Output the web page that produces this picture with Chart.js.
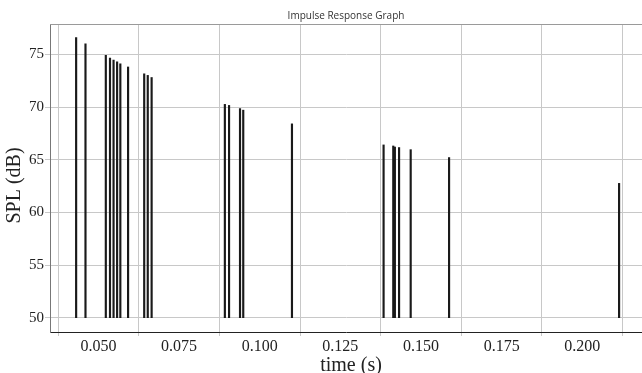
<!DOCTYPE html>
<html>
<head>
<meta charset="utf-8">
<script src="https://cdn.jsdelivr.net/npm/chart.js@4/dist/chart.umd.min.js"></script>
<style>
  html, body { margin: 0; padding: 0; background: #ffffff; }
  #wrap { width: 642px; height: 373px; position: relative; }
</style>
</head>
<body>
<div id="wrap"><canvas id="c" width="642" height="373"></canvas></div>
<script>
// ---- data ----
const chartTitle = "Impulse Response Graph";
const xTitle = "time (s)";
const yTitle = "SPL (dB)";
const times = [0.0431, 0.0460, 0.0523, 0.0536, 0.0547, 0.0558, 0.0568, 0.0592, 0.0642, 0.0653, 0.0665,
               0.0892, 0.0905, 0.0939, 0.0949, 0.1100,
               0.1384, 0.1414, 0.1419, 0.1432, 0.1468, 0.1587, 0.2114];
const splValues = [76.6, 76.0, 74.9, 74.65, 74.45, 74.3, 74.1, 73.8, 73.15, 73.0, 72.8,
                   70.25, 70.15, 69.85, 69.7, 68.4,
                   66.4, 66.3, 66.2, 66.15, 65.95, 65.2, 62.75];
const baseLevel = 50;
const xTicks = [0.050, 0.075, 0.100, 0.125, 0.150, 0.175, 0.200];
const yTicks = [50, 55, 60, 65, 70, 75];

const points = times.map((t, i) => ({ x: t, y: [baseLevel, splValues[i]] }));

const topBorder = {
  id: 'topBorder',
  afterDraw(chart) {
    const { ctx, chartArea } = chart;
    ctx.save();
    ctx.strokeStyle = '#9a9a9a';
    ctx.lineWidth = 1;
    ctx.beginPath();
    ctx.moveTo(chartArea.left, chartArea.top + 0.5);
    ctx.lineTo(chartArea.right, chartArea.top + 0.5);
    ctx.stroke();
    ctx.restore();
  }
};

new Chart(document.getElementById('c'), {
  type: 'bar',
  data: {
    datasets: [{
      data: points,
      backgroundColor: '#1a1a1a',
      borderWidth: 0,
      barThickness: 1.5,
      grouped: false
    }]
  },
  options: {
    responsive: false,
    animation: false,
    layout: { padding: { left: 0, right: 0, top: 0, bottom: 0 } },
    plugins: {
      legend: { display: false },
      tooltip: { enabled: false },
      title: {
        display: true,
        text: chartTitle,
        fullSize: false,
        color: '#333333',
        font: { family: 'Open Sans', size: 10, weight: 'normal', lineHeight: 1.2 },
        padding: { top: 10, bottom: 2 }
      }
    },
    scales: {
      x: {
        type: 'linear',
        min: 0.035,
        max: 0.2185,
        offset: false,
        afterFit(scale) { scale.height = 41; },
        afterBuildTicks(scale) { scale.ticks = xTicks.map(v => ({ value: v })); },
        ticks: {
          includeBounds: false,
          color: '#222222',
          padding: 1,
          maxRotation: 0,
          font: { family: 'Liberation Serif', size: 16 },
          callback: v => v.toFixed(3)
        },
        grid: { color: '#c8c8c8', lineWidth: 1, tickLength: 4, drawTicks: true },
        border: { display: true, color: '#222222', width: 1 },
        title: {
          display: true,
          text: '  ' + xTitle,
          color: '#222222',
          font: { family: 'Liberation Serif', size: 20, lineHeight: 1 },
          padding: { top: 0, bottom: -3 }
        }
      },
      y: {
        type: 'linear',
        min: 48.64,
        max: 77.88,
        afterFit(scale) { scale.width = 50; },
        afterBuildTicks(scale) { scale.ticks = yTicks.map(v => ({ value: v })); },
        ticks: {
          includeBounds: false,
          color: '#222222',
          padding: 1,
          font: { family: 'Liberation Serif', size: 15 }
        },
        grid: { color: '#c8c8c8', lineWidth: 1, tickLength: 5, drawTicks: true },
        border: { display: true, color: '#777777', width: 1 },
        title: {
          display: true,
          text: yTitle + '   ',
          color: '#222222',
          font: { family: 'Liberation Serif', size: 20, lineHeight: 1 },
          padding: { top: 5, bottom: 0 }
        }
      }
    }
  },
  plugins: [topBorder]
});
</script>
</body>
</html>
